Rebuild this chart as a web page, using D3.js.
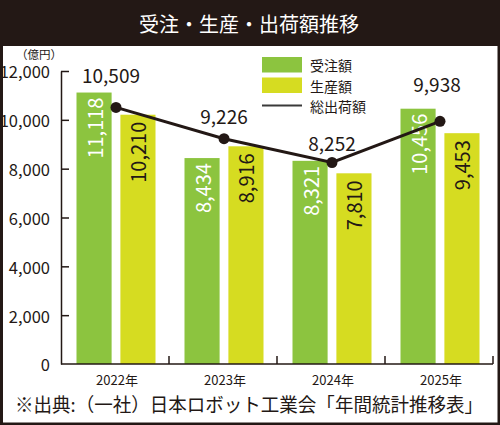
<!DOCTYPE html>
<html><head><meta charset="utf-8">
<script src="https://cdn.jsdelivr.net/npm/d3@7/dist/d3.min.js"></script>
<style>html,body{margin:0;padding:0;background:#fff;}svg{display:block;}</style>
</head><body>
<svg id="chart" width="500" height="425"></svg>
<script>
const categories = ["2022年", "2023年", "2024年", "2025年"];
const seriesNames = ["受注額", "生産額"];
const orders = [11118, 8434, 8321, 10456];
const production = [10210, 8916, 7810, 9453];
const shipments = [10509, 9226, 8252, 9938];
const yTicks = [0, 2000, 4000, 6000, 8000, 10000, 12000];
const title = "受注・生産・出荷額推移";
const unitLabel = "（億円）";
const lineName = "総出荷額";
const sourceText = "※出典:（一社）日本ロボット工業会「年間統計推移表」";

const dark = "#231815", green = "#8cc43f", yellow = "#d6dc21";
const font = "'Noto Sans CJK JP', 'Noto Sans', sans-serif";
const svg = d3.select("#chart").style("font-family", font);

svg.append("rect").attr("width", 500).attr("height", 425).attr("fill", dark);
svg.append("rect").attr("x", 3).attr("y", 46).attr("width", 494.5).attr("height", 376.5).attr("fill", "#fff");
svg.append("text").attr("x", 249).attr("y", 32).attr("text-anchor", "middle")
  .attr("fill", "#fff").attr("font-size", 20).text(title);

const y = d3.scaleLinear().domain([0, 12000]).range([364, 71]);
const x0 = d3.scaleBand().domain(categories).range([61, 493]);
const bw = x0.bandwidth();
const x1 = d3.scaleBand().domain(seriesNames).range([bw / 2 - 38.5, bw / 2 + 40.5]).paddingInner(0.2);
const colors = d3.scaleOrdinal().domain(seriesNames).range([green, yellow]);
const valuesBySeries = [orders, production];

// bars
const groups = svg.append("g").selectAll("g").data(categories).join("g")
  .attr("transform", c => `translate(${x0(c)},0)`);
seriesNames.forEach((s, si) => {
  groups.append("rect")
    .attr("x", x1(s)).attr("width", x1.bandwidth())
    .attr("y", (c, i) => y(valuesBySeries[si][i]))
    .attr("height", (c, i) => y(0) - y(valuesBySeries[si][i]))
    .attr("fill", colors(s));
  groups.append("text")
    .attr("transform", (c, i) => `translate(${x1(s) + x1.bandwidth() / 2},${y(valuesBySeries[si][i]) + (si === 0 ? 5 : 7)}) rotate(-90)`)
    .attr("text-anchor", "end").attr("dominant-baseline", "central")
    .attr("font-size", 20).attr("fill", si === 0 ? "#fff" : dark)
    .text((c, i) => d3.format(",")(valuesBySeries[si][i]));
});

// y axis
const yAxis = d3.axisLeft(y).tickValues(yTicks).tickFormat(d3.format(","))
  .tickSizeInner(-8).tickSizeOuter(0).tickPadding(11);
const ya = svg.append("g").attr("transform", "translate(61,0)").call(yAxis);
ya.select(".domain").attr("stroke", dark).attr("stroke-width", 1.5);
ya.selectAll(".tick line").attr("stroke", dark).attr("stroke-width", 1.5);
ya.selectAll(".tick text").attr("font-size", 16.5).attr("fill", dark).attr("font-family", font)
  .attr("dy", "0.42em");
ya.select(".tick:first-of-type line").remove();

svg.append("text").attr("x", 39).attr("y", 58.5).attr("text-anchor", "middle")
  .attr("font-size", 11.5).attr("fill", dark).text(unitLabel);

// x axis
svg.append("line").attr("x1", 61).attr("x2", 493).attr("y1", y(0)).attr("y2", y(0))
  .attr("stroke", dark).attr("stroke-width", 1.5);
svg.append("g").selectAll("line").data(categories).join("line")
  .attr("x1", c => x0(c) + bw).attr("x2", c => x0(c) + bw)
  .attr("y1", y(0)).attr("y2", y(0) - 8).attr("stroke", dark).attr("stroke-width", 1.5);
svg.append("g").selectAll("text").data(categories).join("text")
  .attr("x", c => x0(c) + bw / 2 + 2).attr("y", 385)
  .attr("text-anchor", "middle").attr("font-size", 13).attr("fill", dark).text(c => c);

// line
const cx = c => x0(c) + bw / 2 + 1;
const line = d3.line().x((d, i) => cx(categories[i])).y(d => y(d));
svg.append("path").datum(shipments).attr("d", line)
  .attr("fill", "none").attr("stroke", dark).attr("stroke-width", 3);
svg.append("g").selectAll("circle").data(shipments).join("circle")
  .attr("cx", (d, i) => cx(categories[i])).attr("cy", d => y(d)).attr("r", 5.5).attr("fill", dark);
const labelDy = [-24, -15, -12, -29];
const labelDx = [-5, 0, 0, -3];
svg.append("g").selectAll("text").data(shipments).join("text")
  .attr("x", (d, i) => cx(categories[i]) + labelDx[i]).attr("y", (d, i) => y(d) + labelDy[i])
  .attr("text-anchor", "middle").attr("font-size", 19).attr("fill", dark)
  .text(d => d3.format(",")(d));

// legend
const lg = svg.append("g").attr("transform", "translate(262,57)");
seriesNames.forEach((s, i) => {
  lg.append("rect").attr("x", 0).attr("y", i * 20.5).attr("width", 40).attr("height", 15.5).attr("fill", colors(s));
  lg.append("text").attr("x", 48).attr("y", i * 20.5 + 8).attr("dominant-baseline", "central")
    .attr("font-size", 14).attr("fill", dark).text(s);
});
lg.append("line").attr("x1", 0).attr("x2", 40).attr("y1", 48.5).attr("y2", 48.5)
  .attr("stroke", "#3a3a3a").attr("stroke-width", 2);
lg.append("text").attr("x", 48).attr("y", 48.5).attr("dominant-baseline", "central")
  .attr("font-size", 14).attr("fill", dark).text(lineName);

// source
svg.append("text").attr("x", 15).attr("y", 412).attr("font-size", 19).attr("fill", dark)
  .attr("textLength", 468).attr("lengthAdjust", "spacingAndGlyphs").text(sourceText);
</script>
</body></html>
